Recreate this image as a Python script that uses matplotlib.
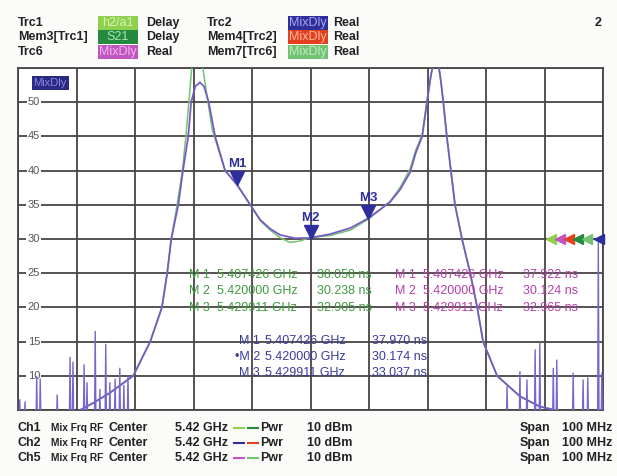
import matplotlib
matplotlib.use("Agg")
import matplotlib.pyplot as plt
from matplotlib.patches import Rectangle

# %% data (freq in GHz, delay in ns)

f_blue = [5.3806, 5.3828, 5.3857, 5.3897, 5.3926, 5.3946, 5.3955, 5.3962, 5.3974,
          5.3982, 5.3991, 5.3996, 5.4003, 5.4011, 5.4018, 5.4026, 5.4037, 5.4054,
          5.4074, 5.4097, 5.4114, 5.4131, 5.4148, 5.4174, 5.4200, 5.4233, 5.4268,
          5.4299, 5.4336, 5.4353, 5.4370, 5.4380, 5.4391, 5.4399, 5.4406, 5.4411,
          5.4418, 5.4423, 5.4427, 5.4433, 5.4440, 5.4447, 5.4459, 5.4473, 5.4485,
          5.4495, 5.4519, 5.4558, 5.4592, 5.4644]
d_blue = [5.0, 6.0, 7.5, 10.0, 15.0, 20.0, 25.0, 30.0, 35.0,
          40.0, 45.0, 50.0, 52.3, 52.9, 52.3, 50.0, 45.0, 40.0,
          37.97, 35.0, 32.8, 31.5, 30.6, 30.1, 30.17, 30.7, 31.6,
          33.04, 35.4, 37.2, 39.7, 42.6, 45.0, 50.0, 54.0, 56.0,
          56.0, 53.0, 50.0, 45.0, 40.0, 35.0, 30.0, 25.0, 20.0,
          15.0, 10.0, 7.0, 5.5, 4.5]

f_green = [5.3806, 5.3828, 5.3857, 5.3897, 5.3926, 5.3946, 5.3955, 5.3962, 5.3972,
           5.3981, 5.3987, 5.3992, 5.3997, 5.4004, 5.4011, 5.4016, 5.4023, 5.4032,
           5.4054, 5.4074, 5.4097, 5.4114, 5.4131, 5.4148, 5.4165, 5.4182, 5.4200,
           5.4233, 5.4268, 5.4299, 5.4336, 5.4353, 5.4370, 5.4380, 5.4391, 5.4399,
           5.4406, 5.4411, 5.4418, 5.4423, 5.4427, 5.4433, 5.4440, 5.4447, 5.4459,
           5.4473, 5.4485, 5.4495, 5.4519, 5.4558, 5.4592, 5.4644]
d_green = [5.0, 6.0, 7.5, 10.0, 15.0, 20.0, 25.0, 30.0, 35.0,
           40.0, 45.0, 50.0, 55.0, 58.0, 58.0, 55.0, 51.0, 46.0,
           40.0, 38.06, 35.0, 32.7, 31.3, 30.2, 29.5, 29.7, 30.24,
           30.5, 31.3, 32.9, 35.5, 37.5, 40.2, 43.0, 45.3, 50.0,
           54.0, 56.0, 56.0, 53.0, 50.0, 45.0, 40.0, 35.0, 30.0,
           25.0, 20.0, 15.0, 10.0, 7.0, 5.5, 4.5]

# noisy delay spikes at the band edges
spk_left_f = [5.3703, 5.3712, 5.3732, 5.3738, 5.3767, 5.3789, 5.3794, 5.3813, 5.3818,
              5.3832, 5.3840, 5.3850, 5.3857, 5.3866, 5.3874, 5.3881, 5.3888]
spk_left_d = [6.5, 6.2, 9.9, 9.5, 7.2, 12.7, 12.0, 11.6, 9.0,
              16.5, 8.0, 14.6, 9.0, 9.5, 11.1, 8.6, 10.0]
spk_right_f = [5.4536, 5.4558, 5.4570, 5.4584, 5.4592, 5.4615, 5.4621, 5.4649,
               5.4666, 5.4674, 5.4692, 5.4698]
spk_right_d = [8.4, 10.6, 9.4, 13.8, 14.8, 11.1, 12.3, 10.4, 9.4, 9.7, 29.5, 10.4]

mk_names = ['M 1', 'M 2', 'M 3']
mk_freq = [5.407426, 5.420000, 5.429911]
mk_trc2 = [37.970, 30.174, 33.037]
mk_trc1 = [38.058, 30.238, 32.905]
mk_trc6 = [37.922, 30.124, 32.965]
ref_level = 30

yticks = [10, 15, 20, 25, 30, 35, 40, 45, 50]

C_LGREEN = '#8fd050'
C_DGREEN = '#238a3e'
C_MAG = '#c055c0'
C_BLUE = '#2e2e9c'
C_RED = '#e4401e'
C_GREEN = '#74c274'
C_TRACE = '#6a5cc2'

plt.rcParams['font.family'] = ['Liberation Sans', 'DejaVu Sans']

W, H = 617, 476
def fx(x):
    return x / W
def fy(y):
    return 1 - y / H

fig = plt.figure(figsize=(W / 100, H / 100), dpi=100, facecolor='#fbfbf9')
ax = fig.add_axes([fx(18), fy(410), 585 / W, 342 / H])
ax.set_facecolor('white')
ax.set_xlim(5.37, 5.47)
ax.set_ylim(5, 55)
ax.set_xticks([5.37 + 0.01 * i for i in range(11)])
ax.set_yticks([5 + 5 * i for i in range(11)])
ax.tick_params(length=0, labelbottom=False, labelleft=False)
ax.grid(True, color='#4a4444', lw=1.3)
ax.set_axisbelow(True)
for s in ax.spines.values():
    s.set_color('#4a4444')
    s.set_linewidth(1.3)

# y labels sit inside the grid
for v in yticks:
    ax.text(0.027, v, str(v), transform=ax.get_yaxis_transform(), ha='center', va='center',
            fontsize=8, color='#555555',
            bbox=dict(boxstyle='square,pad=0.1', fc='white', ec='none'))

# traces
ax.plot(f_green, d_green, color=C_GREEN, lw=1.1, zorder=3)
ax.plot(f_blue, d_blue, color=C_MAG, lw=1.6, alpha=0.35, zorder=3)
ax.plot(f_blue, d_blue, color=C_TRACE, lw=1.1, zorder=4)

def spikes(fs, ds, w=0.00012, base=3):
    xs, ys = [], []
    for f, d in zip(fs, ds):
        xs += [f - w, f, f + w]
        ys += [base, d, base]
    return xs, ys

for fs, ds in [(spk_left_f, spk_left_d), (spk_right_f, spk_right_d)]:
    xs, ys = spikes(fs, ds)
    ax.plot(xs, ys, color='#7468cc', lw=1.0, zorder=4)

# markers on Trc2
for name, f, d in zip(mk_names, mk_freq, mk_trc2):
    ax.plot(f, d + 0.9, marker='v', color=C_BLUE, ms=10, zorder=6)
    ax.annotate(name.replace(' ', ''), (f, d), xytext=(0, 14.5), textcoords='offset points',
                ha='center', va='center', fontsize=9.5, fontweight='bold', color=C_BLUE, zorder=6)

# reference level indicators
ind_cols = [C_LGREEN, C_MAG, C_RED, C_DGREEN, C_GREEN, C_BLUE]
ind_x = [0.911, 0.926, 0.942, 0.957, 0.973, 0.993]
for c, xx in zip(ind_cols, ind_x):
    ax.plot(xx, ref_level, marker='<', color=c, ms=7, transform=ax.get_yaxis_transform(),
            clip_on=False, zorder=7)

# MixDly scale label
ax.text(0.055, 0.956, 'MixDly', transform=ax.transAxes, ha='center', va='center', fontsize=8,
        color='#8a86d8', bbox=dict(boxstyle='square,pad=0.15', fc='#2a2a86', ec='none'))

# marker tables
def table(x0, y0, vals, color):
    for i, (n, f, v) in enumerate(zip(mk_names, mk_freq, vals)):
        y = y0 + i * 16.5
        fig.text(fx(x0), fy(y), n, ha='left', va='center', fontsize=9, color=color)
        fig.text(fx(x0 + 28), fy(y), f'{f:.6f} GHz', ha='left', va='center', fontsize=9, color=color)
        fig.text(fx(x0 + 128), fy(y), f'{v:.3f} ns', ha='left', va='center', fontsize=9, color=color)

table(189, 275, mk_trc1, '#3f9a3f')
table(395, 275, mk_trc6, '#b43fa8')

for i, (n, f, v) in enumerate(zip(mk_names, mk_freq, mk_trc2)):
    y = 341 + i * 16
    lab = '\u2022' + n if i == 1 else n
    fig.text(fx(260), fy(y), lab, ha='right', va='center', fontsize=9, color='#3a3a9c')
    fig.text(fx(265), fy(y), f'{f:.6f} GHz', ha='left', va='center', fontsize=9, color='#3a3a9c')
    fig.text(fx(372), fy(y), f'{v:.3f} ns', ha='left', va='center', fontsize=9, color='#3a3a9c')

# header
hdr_rows = [23, 37, 52]
left_names = ['Trc1', 'Mem3[Trc1]', 'Trc6']
left_tags = ['h2/a1', 'S21', 'MixDly']
left_cols = [C_LGREEN, C_DGREEN, C_MAG]
left_txt = ['#d8f4b0', '#a8e4b8', '#f0b8f0']
left_fmt = ['Delay', 'Delay', 'Real']
right_names = ['Trc2', 'Mem4[Trc2]', 'Mem7[Trc6]']
right_cols = [C_BLUE, C_RED, C_GREEN]
right_txt = ['#a8a8ec', '#f8b8a0', '#c0ecc0']

def tag(x, y, txt, fc, tc):
    fig.patches.append(Rectangle((fx(x), fy(y + 7)), 40 / W, 14 / H, transform=fig.transFigure,
                                 facecolor=fc, edgecolor='none'))
    fig.text(fx(x + 20), fy(y), txt, ha='center', va='center', fontsize=9, color=tc)

for y, n, t, c, tc, fm in zip(hdr_rows, left_names, left_tags, left_cols, left_txt, left_fmt):
    fig.text(fx(18), fy(y), n, ha='left', va='center', fontsize=9, fontweight='bold', color='#222222')
    tag(98, y, t, c, tc)
    fig.text(fx(146), fy(y), fm, ha='left', va='center', fontsize=9, fontweight='bold', color='#222222')
for y, n, c, tc in zip(hdr_rows, right_names, right_cols, right_txt):
    fig.text(fx(207), fy(y), n, ha='left', va='center', fontsize=9, fontweight='bold', color='#222222')
    tag(288, y, 'MixDly', c, tc)
    fig.text(fx(333), fy(y), 'Real', ha='left', va='center', fontsize=9, fontweight='bold', color='#222222')
fig.text(fx(598), fy(23), '2', ha='center', va='center', fontsize=9, fontweight='bold', color='#222222')

# footer
ft_rows = [428, 443, 458]
ch_names = ['Ch1', 'Ch2', 'Ch5']
dash_cols = [(C_LGREEN, C_DGREEN), (C_BLUE, C_RED), (C_MAG, C_GREEN)]
for y, ch, (c1, c2) in zip(ft_rows, ch_names, dash_cols):
    kw = dict(va='center', fontsize=9, fontweight='bold', color='#222222')
    fig.text(fx(18), fy(y), ch, ha='left', **kw)
    fig.text(fx(51), fy(y), 'Mix Frq RF', ha='left', va='center', fontsize=7.3, fontweight='bold',
             color='#222222')
    fig.text(fx(108), fy(y), 'Center', ha='left', **kw)
    fig.text(fx(175), fy(y), '5.42 GHz', ha='left', **kw)
    fig.lines.append(plt.Line2D([fx(234), fx(244)], [fy(y), fy(y)], transform=fig.transFigure,
                                color=c1, lw=1.5))
    fig.lines.append(plt.Line2D([fx(248), fx(258)], [fy(y), fy(y)], transform=fig.transFigure,
                                color=c2, lw=1.5))
    fig.text(fx(260), fy(y), 'Pwr', ha='left', **kw)
    fig.text(fx(307), fy(y), '10 dBm', ha='left', **kw)
    fig.text(fx(520), fy(y), 'Span', ha='left', **kw)
    fig.text(fx(612), fy(y), '100 MHz', ha='right', **kw)

plt.savefig('out.png', dpi=100, facecolor=fig.get_facecolor())
